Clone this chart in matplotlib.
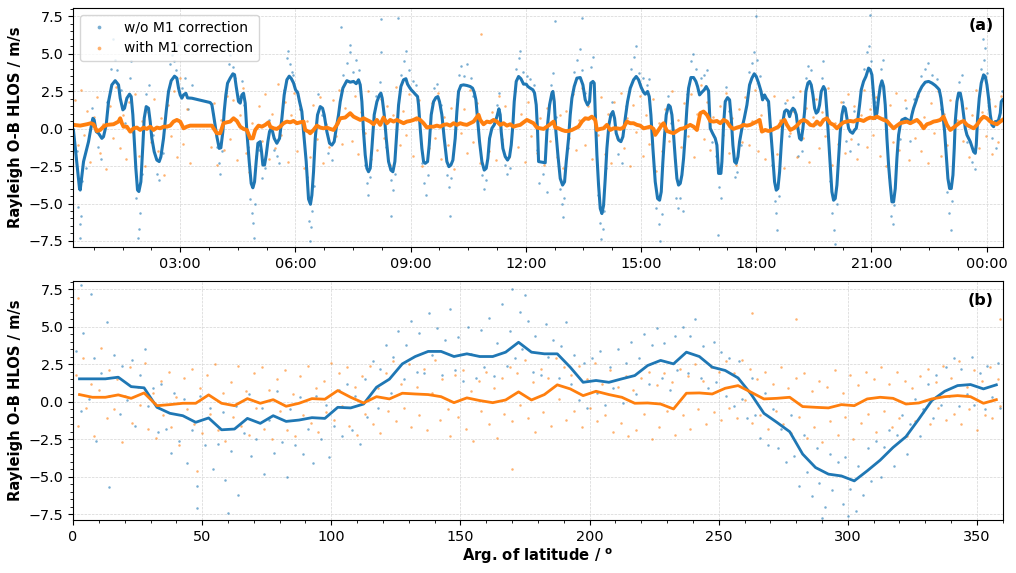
import datetime as dt
import matplotlib
matplotlib.use("Agg")
import matplotlib.pyplot as plt
import matplotlib.dates as mdates
from matplotlib.ticker import AutoMinorLocator, MultipleLocator

# ---------------- panel (a): time series (hours since 00:00) ----------------
# running mean, w/o M1 correction
blue_a = [
    (0.22, -0.1), (0.378, -4.0), (0.396, -4.1), (0.483, -2.2), (0.569, -1.3), (0.613, -0.87),
    (0.674, 0.02), (0.726, 0.69), (0.760, 0.58), (0.813, -0.2), (0.873, -0.31), (0.960, -0.65),
    (1.003, -0.54), (1.073, 0.25), (1.134, 1.8), (1.220, 2.92), (1.307, 3.2), (1.394, 2.92),
    (1.438, 2.03), (1.507, 1.25), (1.550, 1.36), (1.611, 2.03), (1.681, 2.3), (1.724, 2.14),
    (1.767, 0.92), (1.802, -0.65), (1.845, -2.65), (1.889, -4.1), (1.924, -4.2), (1.976, -3.55),
    (2.028, -1.1), (2.063, 0.69), (2.115, 1.47), (2.175, 1.36), (2.219, 0.47), (2.262, -0.65),
    (2.323, -1.54), (2.392, -2.1), (2.453, -2.2), (2.497, -1.88), (2.566, -0.65), (2.635, 1.14),
    (2.696, 2.48), (2.766, 3.2), (2.852, 3.5), (2.913, 3.37), (2.957, 2.7), (3.000, 2.25),
    (3.043, 2.03), (3.087, 2.25), (3.148, 2.36), (3.191, 2.05), (3.304, 2.03), (3.781, 1.74),
    (3.825, 1.6), (3.868, 0.92), (3.955, -0.54), (4.016, -1.32), (4.059, -1.28), (4.111, -0.2),
    (4.146, 1.14), (4.189, 2.25), (4.233, 3.03), (4.302, 3.37), (4.372, 3.66), (4.415, 3.6),
    (4.458, 2.81), (4.519, 1.81), (4.563, 1.70), (4.606, 2.25), (4.649, 2.36), (4.693, 1.7),
    (4.736, -0.2), (4.797, -2.2), (4.849, -3.66), (4.892, -3.95), (4.936, -3.55), (4.979, -2.2),
    (5.023, -0.98), (5.083, -0.87), (5.118, -1.54), (5.153, -2.43), (5.196, -2.43), (5.240, -1.76),
    (5.283, -0.87), (5.326, -0.2), (5.370, 0.02), (5.405, -0.2), (5.448, -0.65), (5.517, -0.98),
    (5.587, -0.65), (5.648, 0.69), (5.708, 2.25), (5.778, 3.26), (5.839, 3.5), (5.891, 3.35),
    (5.951, 3.05), (6.003, 2.6), (6.064, 2.36), (6.108, 1.8), (6.168, 1.14), (6.212, -0.2),
    (6.281, -2.2), (6.342, -4.7), (6.392, -5.05), (6.429, -4.44), (6.472, -2.88), (6.516, -0.65),
    (6.576, 0.92), (6.646, 1.47), (6.707, 1.36), (6.750, 0.92), (6.819, -0.2), (6.889, -0.98),
    (6.950, -1.1), (7.010, -0.87), (7.063, 0.02), (7.123, 0.92), (7.167, 1.8), (7.236, 2.7),
    (7.340, 3.2), (7.427, 3.1), (7.514, 3.15), (7.583, 3.0), (7.644, 3.26), (7.688, 2.92),
    (7.731, 1.8), (7.774, -0.2), (7.818, -1.76), (7.861, -2.65), (7.904, -2.88), (7.948, -2.65),
    (7.991, -1.32), (8.052, 0.92), (8.122, 1.8), (8.191, 2.25), (8.226, 2.37), (8.260, 2.03),
    (8.313, 0.92), (8.365, -0.65), (8.425, -2.2), (8.486, -2.77), (8.538, -2.88), (8.590, -2.2),
    (8.642, -0.2), (8.686, 1.58), (8.747, 2.81), (8.816, 3.26), (8.877, 3.33), (8.920, 2.97),
    (8.972, 2.75), (9.016, 2.59), (9.076, 2.43), (9.120, 2.3), (9.181, 2.14), (9.207, 1.58),
    (9.250, 0.02), (9.293, -1.32), (9.337, -2.2), (9.380, -2.32), (9.441, -2.2), (9.484, -1.1),
    (9.536, 0.92), (9.597, 1.8), (9.658, 2.07), (9.710, 2.14), (9.753, 1.8), (9.814, 0.92),
    (9.875, -0.65), (9.944, -2.2), (9.997, -2.54), (10.049, -2.43), (10.101, -2.1), (10.161, -0.65),
    (10.205, 1.14), (10.248, 2.48), (10.309, 2.88), (10.378, 2.92), (10.465, 2.88), (10.552, 2.81),
    (10.613, 2.7), (10.656, 2.43), (10.700, 1.92), (10.743, 0.69), (10.795, -0.87), (10.856, -2.2),
    (10.917, -2.77), (10.969, -2.65), (11.012, -1.98), (11.056, -0.65), (11.116, 0.02), (11.177, 0.25),
    (11.247, 0.80), (11.299, 1.32), (11.333, 0.92), (11.359, -0.2), (11.403, -1.32), (11.464, -1.87),
    (11.524, -2.1), (11.576, -1.87), (11.620, -1.1), (11.663, 0.25), (11.698, 1.8), (11.750, 3.15),
    (11.811, 3.48), (11.872, 3.33), (11.941, 2.97), (12.010, 2.97), (12.054, 2.81), (12.115, 2.7),
    (12.184, 2.59), (12.227, 2.37), (12.271, 1.58), (12.306, -0.2), (12.332, -2.2), (12.505, -2.28),
    (12.549, -0.2), (12.618, 1.58), (12.679, 2.37), (12.705, 2.48), (12.740, 1.81), (12.783, -0.2),
    (12.835, -1.76), (12.896, -3.33), (12.957, -3.77), (13.009, -3.55), (13.052, -2.21), (13.113, -0.65),
    (13.156, 0.92), (13.200, 2.03), (13.260, 2.81), (13.330, 3.37), (13.417, 3.41), (13.486, 2.92),
    (13.547, 1.92), (13.608, 1.58), (13.660, 1.81), (13.694, 3.04), (13.747, 3.15), (13.781, 3.04),
    (13.816, 0.47), (13.851, -1.76), (13.894, -3.77), (13.938, -5.33), (13.981, -5.67), (14.024, -5.13),
    (14.068, -3.33), (14.111, -1.32), (14.163, 0.25), (14.215, 0.92), (14.267, 1.14), (14.311, 0.69),
    (14.354, -0.31), (14.415, -0.76), (14.476, -0.87), (14.528, -0.54), (14.589, 0.69), (14.649, 1.8),
    (14.719, 2.7), (14.806, 3.26), (14.875, 3.48), (14.936, 3.26), (15.005, 2.75), (15.066, 2.43),
    (15.109, 2.3), (15.170, 2.48), (15.214, 2.14), (15.257, 0.92), (15.309, -1.32), (15.370, -3.55),
    (15.431, -4.67), (15.483, -4.78), (15.526, -4.22), (15.569, -2.21), (15.613, -0.42), (15.656, 0.92),
    (15.717, 1.58), (15.760, 1.47), (15.804, 0.92), (15.847, -0.42), (15.891, -1.98), (15.934, -3.33),
    (15.977, -3.77), (16.021, -3.66), (16.064, -3.1), (16.108, -1.98), (16.151, -0.42), (16.194, 1.36),
    (16.238, 2.7), (16.299, 3.41), (16.368, 3.41), (16.429, 3.15), (16.472, 2.81), (16.524, 2.25),
    (16.585, 2.43), (16.646, 2.59), (16.698, 2.81), (16.759, 2.52), (16.802, 0.02), (16.863, -0.31),
    (16.932, -0.65), (16.976, -1.1), (17.002, -2.21), (17.019, -2.99), (17.080, -2.99), (17.106, -2.21),
    (17.149, 0.25), (17.193, 1.81), (17.253, 2.07), (17.306, 1.92), (17.349, 0.69), (17.392, -1.1),
    (17.436, -2.21), (17.479, -2.32), (17.523, -1.88), (17.566, -0.87), (17.627, 0.02), (17.688, 0.69),
    (17.757, 1.58), (17.826, 2.92), (17.887, 3.37), (17.948, 3.66), (18.000, 3.48), (18.061, 3.04),
    (18.122, 2.52), (18.165, 1.92), (18.217, 2.25), (18.260, 2.03), (18.321, 1.81), (18.365, 0.25),
    (18.426, -1.76), (18.477, -3.55), (18.521, -4.11), (18.564, -4.0), (18.608, -2.88), (18.651, -1.1),
    (18.694, 0.47), (18.738, 1.14), (18.781, 1.25), (18.825, 1.18), (18.868, 0.8), (18.911, 1.18),
    (18.955, 1.36), (18.998, 1.25), (19.042, 0.92), (19.085, 0.02), (19.128, -0.65), (19.172, -0.76),
    (19.215, 0.02), (19.259, 1.14), (19.293, 2.48), (19.345, 3.04), (19.389, 3.15), (19.432, 2.92),
    (19.476, 2.25), (19.519, 1.36), (19.562, 1.03), (19.606, 1.14), (19.649, 1.58), (19.693, 2.48),
    (19.753, 2.81), (19.797, 2.59), (19.840, 1.14), (19.884, -0.65), (19.927, -2.43), (19.970, -4.22),
    (20.014, -4.78), (20.057, -4.67), (20.101, -3.77), (20.144, -1.98), (20.188, -0.2), (20.231, 0.92),
    (20.274, 1.47), (20.318, 1.36), (20.361, 0.69), (20.405, 0.02), (20.448, -0.2), (20.509, -0.31),
    (20.561, -0.09), (20.604, 0.02), (20.648, 0.69), (20.691, 1.58), (20.734, 2.59), (20.795, 3.15),
    (20.856, 3.48), (20.925, 4.04), (20.969, 3.93), (21.012, 3.59), (21.056, 2.25), (21.099, 0.69),
    (21.142, 1.03), (21.186, 2.03), (21.229, 2.81), (21.273, 3.19), (21.316, 2.81), (21.359, 1.58),
    (21.403, -0.65), (21.446, -2.43), (21.490, -3.77), (21.533, -4.89), (21.576, -4.89), (21.620, -4.0),
    (21.663, -1.98), (21.707, -0.42), (21.750, 0.25), (21.793, 0.58), (21.880, 0.69), (21.950, 0.58),
    (22.010, 0.36), (22.053, 0.92), (22.097, 1.36), (22.158, 1.81), (22.227, 2.37), (22.314, 2.81),
    (22.401, 3.1), (22.488, 3.15), (22.575, 3.04), (22.661, 2.88), (22.731, 2.7), (22.766, 2.59),
    (22.809, 2.03), (22.852, 1.14), (22.905, -0.2), (22.948, -1.76), (22.991, -3.33), (23.035, -4.0),
    (23.078, -4.0), (23.122, -3.1), (23.156, -1.32), (23.182, 0.47), (23.226, 1.81), (23.269, 2.37),
    (23.313, 2.37), (23.356, 1.81), (23.399, 0.92), (23.443, 0.02), (23.486, -0.42), (23.530, -0.65),
    (23.573, -0.87), (23.616, -1.21), (23.660, -1.54), (23.703, -1.65), (23.729, -1.1), (23.764, 0.69),
    (23.807, 2.03), (23.859, 3.04), (23.920, 3.59), (23.964, 3.48), (24.007, 2.92), (24.050, 2.03),
    (24.094, 0.92), (24.137, 0.25), (24.181, 0.13), (24.224, 0.47), (24.267, 0.47), (24.311, 0.58),
    (24.354, 1.03), (24.380, 1.8), (24.415, 1.92),
]

# running mean, with M1 correction
orange_a = [
    (0.222, 0.25), (0.396, 0.2), (0.569, 0.29), (0.674, 0.36), (0.743, 0.29), (0.830, -0.16),
    (0.917, -0.09), (1.003, 0.13), (1.090, 0.25), (1.264, 0.29), (1.394, 0.47), (1.438, 0.69),
    (1.481, 0.36), (1.524, 0.13), (1.611, 0.13), (1.698, -0.2), (1.785, 0.02), (1.872, 0.07),
    (1.958, -0.09), (2.045, 0.07), (2.132, -0.02), (2.219, 0.13), (2.306, -0.09), (2.392, 0.07),
    (2.479, 0.02), (2.566, 0.13), (2.653, 0.13), (2.740, 0.2), (2.826, 0.47), (2.913, 0.58),
    (3.000, 0.47), (3.087, 0.02), (3.174, 0.13), (3.260, 0.2), (3.825, 0.2), (3.868, 0.02),
    (3.955, -0.31), (4.042, -0.31), (4.128, 0.36), (4.215, 0.42), (4.302, 0.47), (4.389, 0.69),
    (4.476, 0.51), (4.563, 0.13), (4.649, -0.02), (4.736, -0.09), (4.823, -0.65), (4.892, -0.65),
    (4.953, -0.09), (5.040, 0.2), (5.127, 0.13), (5.214, 0.25), (5.300, 0.42), (5.344, 0.13),
    (5.431, 0.02), (5.517, -0.02), (5.604, 0.13), (5.691, 0.36), (5.778, 0.47), (5.865, 0.42),
    (5.951, 0.51), (6.038, 0.36), (6.125, 0.42), (6.212, 0.47), (6.255, -0.09), (6.342, -0.2),
    (6.385, -0.31), (6.472, -0.09), (6.559, 0.2), (6.646, 0.07), (6.733, 0.02), (6.819, 0.07),
    (6.906, -0.02), (6.993, -0.09), (7.080, 0.25), (7.167, 0.69), (7.297, 0.74), (7.427, 1.03),
    (7.514, 0.8), (7.601, 0.69), (7.688, 0.58), (7.774, 0.69), (7.861, 0.58), (7.948, 0.47),
    (8.035, 0.29), (8.122, 0.58), (8.208, 0.25), (8.295, 0.74), (8.382, 0.36), (8.469, 0.58),
    (8.556, 0.47), (8.642, 0.58), (8.729, 0.47), (8.816, 0.36), (8.903, 0.47), (8.990, 0.51),
    (9.076, 0.58), (9.163, 0.69), (9.250, 0.58), (9.337, 0.36), (9.424, 0.07), (9.510, 0.13),
    (9.597, 0.13), (9.684, 0.2), (9.771, 0.13), (9.858, 0.25), (9.944, 0.29), (10.031, 0.2),
    (10.118, 0.36), (10.205, 0.25), (10.292, 0.36), (10.378, 0.29), (10.465, 0.25), (10.552, 0.36),
    (10.639, 0.47), (10.769, 0.92), (10.813, 0.58), (10.899, 0.29), (10.986, 0.47), (11.073, 0.42),
    (11.160, 0.58), (11.247, 0.47), (11.333, 0.25), (11.420, 0.36), (11.507, 0.2), (11.594, 0.29),
    (11.681, 0.13), (11.767, 0.2), (11.854, 0.25), (11.941, 0.42), (12.028, 0.58), (12.115, 0.47),
    (12.201, 0.36), (12.288, 0.07), (12.375, 0.02), (12.462, -0.02), (12.549, 0.13), (12.635, 0.29),
    (12.722, 0.47), (12.766, 0.07), (12.852, 0.02), (12.939, -0.09), (13.026, -0.16), (13.113, -0.16),
    (13.200, -0.09), (13.286, 0.02), (13.373, 0.13), (13.460, 0.47), (13.547, 0.69), (13.634, 0.65),
    (13.720, 0.8), (13.807, 0.58), (13.851, -0.09), (13.938, -0.02), (14.024, 0.02), (14.111, 0.25),
    (14.198, -0.09), (14.285, 0.02), (14.372, 0.02), (14.458, -0.02), (14.545, 0.07), (14.632, 0.47),
    (14.719, 0.36), (14.806, 0.36), (14.892, 0.25), (14.979, 0.2), (15.066, 0.02), (15.153, 0.07),
    (15.240, 0.13), (15.326, -0.02), (15.370, -0.42), (15.457, -0.09), (15.543, 0.25), (15.587, 0.36),
    (15.674, -0.16), (15.760, -0.24), (15.847, -0.31), (15.934, -0.16), (16.021, -0.02), (16.108, 0.02),
    (16.194, 0.13), (16.281, 0.25), (16.368, 0.13), (16.455, -0.09), (16.542, 1.03), (16.628, 1.14),
    (16.715, 0.92), (16.802, 0.51), (16.889, 0.47), (16.976, 0.51), (17.063, 0.36), (17.149, 0.58),
    (17.236, 0.47), (17.323, 0.13), (17.410, -0.02), (17.497, 0.07), (17.583, 0.13), (17.670, 0.25),
    (17.757, 0.2), (17.844, 0.25), (17.931, 0.36), (18.017, 0.47), (18.087, 0.58), (18.148, -0.2),
    (18.234, -0.09), (18.321, -0.16), (18.408, -0.09), (18.495, 0.02), (18.582, 0.13), (18.668, 0.47),
    (18.738, 0.58), (18.799, 0.25), (18.886, -0.09), (18.973, 0.02), (19.059, 0.2), (19.146, 0.47),
    (19.233, 0.58), (19.320, 0.47), (19.406, 0.25), (19.493, 0.2), (19.580, 0.47), (19.667, 0.25),
    (19.753, 0.58), (19.840, 0.69), (19.927, 0.36), (20.014, 0.25), (20.101, 0.02), (20.188, 0.25),
    (20.274, 0.42), (20.361, 0.47), (20.448, 0.51), (20.535, 0.47), (20.622, 0.58), (20.708, 0.58),
    (20.795, 0.51), (20.882, 0.65), (20.969, 0.74), (21.056, 0.69), (21.142, 0.8), (21.229, 0.69),
    (21.316, 0.58), (21.403, 0.51), (21.490, 0.25), (21.576, 0.02), (21.663, 0.2), (21.750, 0.36),
    (21.837, 0.42), (21.924, 0.47), (22.010, 0.36), (22.097, 0.47), (22.184, 0.58), (22.271, 0.36),
    (22.358, 0.02), (22.444, 0.29), (22.531, 0.36), (22.618, 0.47), (22.705, 0.51), (22.792, 0.58),
    (22.878, 0.8), (22.965, 0.25), (23.052, -0.09), (23.139, 0.07), (23.226, 0.25), (23.313, 0.42),
    (23.399, 0.51), (23.486, 0.25), (23.573, 0.13), (23.660, 0.02), (23.747, 0.25), (23.833, 0.58),
    (23.920, 0.8), (24.007, 0.69), (24.094, 0.47), (24.181, 0.36), (24.267, 0.29), (24.354, 0.47),
    (24.415, 0.58),
]

# individual observations, w/o M1 correction
blue_a_obs = [
    (0.30, -1.5), (0.35, -5.2), (0.38, -6.4), (0.40, -7.3), (0.42, -5.8), (0.45, -3.5), (0.55, -2.6),
    (0.70, 1.4), (0.85, -1.2), (0.95, -2.0), (1.10, 1.8), (1.20, 4.0), (1.26, 6.0), (1.30, 4.6),
    (1.36, 3.9), (1.45, 2.6), (1.55, 0.4), (1.68, 3.4), (1.73, 4.5), (1.86, -4.6), (1.90, -7.3),
    (1.93, -6.7), (1.96, -5.6), (2.00, -3.0), (2.12, 2.3), (2.20, 2.9), (2.30, -0.4), (2.40, -3.0),
    (2.46, -3.4), (2.55, -1.6), (2.74, 4.3), (2.78, 4.9), (2.83, 4.5), (2.90, 3.9), (2.95, 5.6),
    (3.04, 2.7), (3.13, 3.4), (3.20, 1.3), (3.30, 2.9), (3.85, 1.0), (3.95, -1.2), (4.00, -2.3),
    (4.04, -3.0), (4.09, -1.5), (4.20, 2.4), (4.26, 4.3), (4.30, 4.9), (4.37, 4.1), (4.43, 3.4),
    (4.50, 2.2), (4.62, 3.2), (4.66, 1.6), (4.76, -1.2), (4.82, -4.7), (4.87, -5.6), (4.89, -6.3),
    (4.91, -7.3), (4.94, -5.0), (5.05, -1.4), (5.13, -3.3), (5.20, -2.6), (5.32, 0.6), (5.45, -1.4),
    (5.52, -1.8), (5.56, -2.3), (5.70, 2.6), (5.78, 4.7), (5.82, 5.2), (5.86, 4.3), (5.91, 3.8),
    (5.95, 3.6), (6.04, 2.5), (6.12, 1.3), (6.30, -3.2), (6.35, -6.2), (6.38, -7.5), (6.40, -6.6),
    (6.43, -5.5), (6.48, -3.8), (6.60, 2.3), (6.70, 0.9), (6.85, -1.6), (6.95, -2.1), (7.10, 0.4),
    (7.20, 6.8), (7.25, 3.6), (7.35, 4.4), (7.41, 5.6), (7.42, 5.1), (7.50, 3.8), (7.58, 4.6),
    (7.66, 3.9), (7.80, -2.4), (7.86, -3.6), (7.90, -4.4), (7.95, -3.2), (8.10, 2.2), (8.20, 3.1),
    (8.23, 7.3), (8.24, 5.1), (8.35, -1.2), (8.48, -3.4), (8.50, -5.8), (8.54, -4.1), (8.60, -3.0),
    (8.66, 7.4), (8.75, 3.6), (8.82, 4.5), (8.88, 5.2), (8.95, 3.9), (9.05, 3.2), (9.15, 2.9),
    (9.30, -2.3), (9.36, -3.6), (9.40, -4.4), (9.45, -3.1), (9.60, 2.7), (9.70, 3.0), (9.78, 1.6),
    (9.95, -3.1), (10.00, -3.9), (10.02, -5.8), (10.05, -3.3), (10.25, 3.6), (10.32, 4.2),
    (10.40, 3.5), (10.48, 4.3), (10.56, 3.4), (10.62, 2.2), (10.85, -3.1), (10.90, -4.0),
    (10.95, -3.4), (11.10, 0.6), (11.25, 1.6), (11.30, 2.4), (11.45, -2.4), (11.52, -3.0),
    (11.58, -2.6), (11.75, 4.0), (11.81, 4.7), (11.86, 5.2), (11.93, 3.8), (12.02, 3.5),
    (12.12, 3.3), (12.20, 2.9), (12.30, -1.4), (12.35, -3.6), (12.45, -3.0), (12.55, -4.2),
    (12.65, 2.9), (12.70, 3.7), (12.76, 7.2), (12.78, 0.8), (12.88, -4.0), (12.93, -5.0),
    (12.96, -5.9), (13.00, -4.6), (13.10, -1.3), (13.25, 3.8), (13.33, 4.6), (13.40, 5.3),
    (13.45, 3.9), (13.47, 7.4), (13.55, 2.4), (13.70, 4.1), (13.75, 4.8), (13.88, -4.4),
    (13.94, -6.3), (13.97, -7.4), (14.00, -6.7), (14.04, -5.5), (14.10, -2.6), (14.25, 1.8),
    (14.40, -1.7), (14.50, -2.3), (14.60, 1.5), (14.75, 4.0), (14.82, 4.8), (14.88, 5.5),
    (14.95, 3.7), (15.05, 3.4), (15.15, 2.9), (15.20, 3.3), (15.40, -5.3), (15.46, -6.4),
    (15.50, -7.5), (15.55, -5.7), (15.70, 2.2), (15.78, 0.4), (15.92, -4.6), (15.97, -5.3),
    (16.02, -4.6), (16.10, -5.5), (16.20, 2.3), (16.30, 4.5), (16.36, 5.0), (16.42, 4.0),
    (16.55, 3.4), (16.65, 3.6), (16.72, 3.9), (16.85, -0.9), (16.95, -1.8), (17.00, -7.1),
    (17.03, -3.9), (17.08, -4.6), (17.22, 2.8), (17.30, 1.2), (17.44, -3.2), (17.50, -2.9),
    (17.60, -1.1), (17.80, 3.8), (17.90, 4.4), (17.95, 5.1), (18.00, 7.5), (18.02, 4.6),
    (18.10, 3.5), (18.40, -2.4), (18.48, -4.8), (18.52, -5.6), (18.55, -6.8), (18.60, -4.5),
    (18.75, 1.7), (18.85, -0.5), (18.95, 2.1), (19.10, -1.8), (19.18, -1.5), (19.30, 3.4),
    (19.36, 4.2), (19.42, 3.9), (19.55, 0.3), (19.70, 3.4), (19.75, 4.5), (19.92, -3.5),
    (19.98, -5.6), (20.02, -6.8), (20.05, -7.7), (20.10, -5.0), (20.25, 1.8), (20.35, -0.8),
    (20.45, -1.5), (20.55, 1.2), (20.65, -1.0), (20.80, 4.0), (20.88, 5.1), (20.93, 5.5),
    (20.96, 7.6), (21.00, 4.5), (21.10, 1.8), (21.25, 4.0), (21.30, 4.6), (21.45, -3.2),
    (21.52, -5.8), (21.56, -6.4), (21.60, -5.1), (21.75, -0.7), (21.90, 1.4), (22.00, -0.8),
    (22.10, 2.0), (22.30, 3.5), (22.40, 4.0), (22.48, 4.4), (22.58, 3.6), (22.70, 3.3),
    (22.80, 1.3), (22.98, -4.2), (23.03, -5.6), (23.06, -6.8), (23.10, -4.8), (23.28, 3.1),
    (23.35, 3.6), (23.48, -0.9), (23.62, -2.2), (23.70, -2.7), (23.85, 4.0), (23.90, 6.0),
    (23.92, 4.6), (23.96, 5.4), (24.02, 3.7), (24.15, -0.6), (24.25, -1.3), (24.35, 1.1),
    (24.40, 2.5),
]

# individual observations, with M1 correction
orange_a_obs = [
    (0.25, 1.9), (0.33, -1.1), (0.42, 2.6), (0.50, -0.4), (0.58, 1.2), (0.66, -2.2), (0.75, 0.8),
    (0.83, 2.1), (0.92, -1.6), (1.00, 0.3), (1.08, -2.7), (1.17, 1.5), (1.25, -0.6), (1.33, 2.8),
    (1.42, -1.3), (1.50, 0.9), (1.58, -2.0), (1.67, 1.8), (1.75, -0.2), (1.83, 2.3), (1.92, -1.8),
    (2.00, 0.5), (2.08, -2.5), (2.17, 1.1), (2.25, -0.9), (2.33, 2.0), (2.42, -1.5), (2.50, 0.7),
    (2.58, -3.1), (2.67, 1.6), (2.75, -0.5), (2.83, 2.5), (2.92, -1.9), (3.00, 3.4), (3.08, -1.0),
    (3.17, 1.3), (3.25, -2.3), (3.80, -1.2), (3.88, 1.7), (3.97, -2.4), (4.05, 0.6), (4.13, -1.4),
    (4.22, 2.2), (4.30, -0.7), (4.38, 1.9), (4.47, -2.1), (4.55, 0.9), (4.63, 2.7), (4.72, -1.6),
    (4.80, -2.9), (4.88, 0.4), (4.97, -1.8), (5.05, 1.5), (5.13, -0.8), (5.22, 2.3), (5.30, -2.0),
    (5.38, 1.0), (5.47, -1.3), (5.55, 3.0), (5.63, -0.4), (5.72, 1.8), (5.80, -2.2), (5.88, 0.9),
    (5.97, 2.4), (6.05, -1.5), (6.13, 1.3), (6.22, -2.6), (6.30, 0.5), (6.38, -1.9), (6.47, 1.6),
    (6.55, -0.7), (6.63, 2.1), (6.72, -2.3), (6.80, 0.3), (6.88, -1.2), (6.97, 1.9), (7.05, -0.5),
    (7.13, 2.6), (7.22, -1.0), (7.30, 1.4), (7.38, 3.2), (7.47, -0.8), (7.55, 2.2), (7.63, -1.7),
    (7.72, 1.1), (7.80, -0.3), (7.88, 2.5), (7.97, -2.0), (8.05, 0.8), (8.13, -1.4), (8.22, 2.0),
    (8.30, -0.6), (8.38, 1.5), (8.47, -2.4), (8.55, 0.9), (8.63, 2.8), (8.72, -1.1), (8.80, 1.2),
    (8.88, -0.4), (8.97, 2.3), (9.05, -1.8), (9.13, 0.6), (9.22, 1.9), (9.30, -2.5), (9.38, 0.2),
    (9.47, -1.3), (9.55, 1.7), (9.63, -0.6), (9.72, 2.4), (9.80, -2.0), (9.88, 0.8), (9.97, -1.1),
    (10.05, 1.4), (10.13, -2.7), (10.22, 2.0), (10.30, -0.3), (10.38, 1.3), (10.47, -1.6),
    (10.55, 2.6), (10.63, -0.9), (10.72, 1.7), (10.80, -2.3), (10.84, 6.3), (10.97, 0.5),
    (11.05, -1.5), (11.13, 1.1), (11.22, -2.1), (11.30, 2.2), (11.38, -0.7), (11.47, 1.5),
    (11.55, -1.9), (11.63, 0.4), (11.72, 2.5), (11.80, -1.2), (11.88, 1.0), (11.97, -2.2),
    (12.05, 1.8), (12.13, -0.5), (12.22, 2.3), (12.30, -1.6), (12.38, 0.7), (12.47, -2.4),
    (12.55, 1.4), (12.63, -0.8), (12.72, 2.0), (12.80, -1.9), (12.88, 0.9), (12.97, -2.6),
    (13.05, 1.2), (13.13, -0.6), (13.22, 2.3), (13.30, -1.4), (13.38, 0.6), (13.47, 2.7),
    (13.55, -1.1), (13.63, 1.5), (13.72, -2.0), (13.80, 0.9), (13.88, -0.4), (13.97, 2.1),
    (14.05, -1.7), (14.13, 1.0), (14.22, -2.3), (14.30, 1.8), (14.38, -0.6), (14.47, 2.4),
    (14.55, -1.3), (14.63, 0.7), (14.72, -2.5), (14.80, 1.6), (14.88, -0.2), (14.97, 2.2),
    (15.05, -1.8), (15.13, 0.9), (15.22, -1.0), (15.30, 2.0), (15.38, -2.8), (15.47, 0.4),
    (15.55, -1.5), (15.63, 1.3), (15.72, -0.8), (15.80, 2.5), (15.88, -2.1), (15.97, 0.6),
    (16.05, -1.2), (16.13, 1.7), (16.22, -0.5), (16.30, 2.3), (16.38, -1.9), (16.47, 1.0),
    (16.55, 2.9), (16.63, -0.7), (16.72, 1.8), (16.80, -1.4), (16.88, 0.8), (16.97, -2.2),
    (17.05, 1.5), (17.13, -0.4), (17.22, 2.4), (17.30, -1.6), (17.38, 0.7), (17.47, -2.4),
    (17.55, 1.3), (17.63, -0.9), (17.72, 2.1), (17.80, -1.1), (17.88, 0.5), (17.97, 2.6),
    (18.05, -1.5), (18.13, 0.9), (18.22, -2.0), (18.30, 1.6), (18.38, -0.8), (18.47, 2.2),
    (18.55, -1.7), (18.63, 0.6), (18.72, -2.6), (18.80, 1.9), (18.88, -0.3), (18.97, 1.2),
    (19.05, -1.9), (19.13, 2.5), (19.22, -0.6), (19.30, 1.4), (19.38, -2.2), (19.47, 0.8),
    (19.55, 2.0), (19.63, -1.3), (19.72, 1.1), (19.80, -0.5), (19.88, 2.7), (19.97, -2.4),
    (20.05, 0.4), (20.13, -1.0), (20.22, 1.8), (20.30, -1.6), (20.38, 2.3), (20.47, -0.7),
    (20.55, 1.5), (20.63, -2.0), (20.72, 0.9), (20.80, 2.6), (20.88, -1.2), (20.97, 1.3),
    (21.05, -0.4), (21.13, 2.1), (21.22, -1.8), (21.30, 0.7), (21.38, -2.5), (21.47, 1.6),
    (21.55, -0.9), (21.63, 2.4), (21.72, -1.4), (21.80, 0.5), (21.88, 1.9), (21.97, -2.1),
    (22.05, 1.2), (22.13, -0.6), (22.22, 2.2), (22.30, -1.5), (22.38, 0.8), (22.47, -2.3),
    (22.55, 1.7), (22.63, -0.3), (22.72, 2.5), (22.80, -1.8), (22.88, 1.0), (22.97, -1.1),
    (23.05, 1.9), (23.13, -2.4), (23.22, 0.6), (23.30, 2.3), (23.38, -0.8), (23.47, 1.4),
    (23.55, -1.9), (23.63, 0.9), (23.72, 2.6), (23.80, -1.3), (23.88, 1.1), (23.97, -0.5),
    (24.05, 2.0), (24.13, -1.7), (24.22, 1.5), (24.30, -0.9), (24.38, 2.2),
]

# ---------------- panel (b): binned by argument of latitude ----------------
arg_lat_bins = [
    2.5, 7.5, 12.5, 17.5, 22.5, 27.5, 32.5, 37.5, 42.5, 47.5, 52.5, 57.5,
    62.5, 67.5, 72.5, 77.5, 82.5, 87.5, 92.5, 97.5, 102.5, 107.5, 112.5, 117.5,
    122.5, 127.5, 132.5, 137.5, 142.5, 147.5, 152.5, 157.5, 162.5, 167.5, 172.5, 177.5,
    182.5, 187.5, 192.5, 197.5, 202.5, 207.5, 212.5, 217.5, 222.5, 227.5, 232.5, 237.5,
    242.5, 247.5, 252.5, 257.5, 262.5, 267.5, 272.5, 277.5, 282.5, 287.5, 292.5, 297.5,
    302.5, 307.5, 312.5, 317.5, 322.5, 327.5, 332.5, 337.5, 342.5, 347.5, 352.5, 357.5,
]
blue_b = [
    1.52, 1.52, 1.52, 1.63, 1.0, 0.92, -0.38, -0.78, -0.94, -1.38, -1.09, -1.88,
    -1.83, -1.12, -1.45, -0.94, -1.32, -1.23, -1.07, -1.12, -0.38, -0.42, -0.16, 0.96,
    1.5, 2.52, 3.01, 3.35, 3.35, 3.01, 3.19, 3.01, 3.01, 3.3, 3.96, 3.3,
    3.19, 3.19, 2.3, 1.29, 1.41, 1.29, 1.52, 1.74, 2.41, 2.75, 2.52, 3.3,
    3.01, 2.3, 2.08, 1.58, 0.51, -0.78, -1.38, -2.01, -3.5, -4.4, -4.84, -4.96,
    -5.29, -4.62, -3.91, -3.06, -2.34, -1.16, 0.07, 0.69, 1.07, 1.14, 0.85, 1.12,
]
orange_b = [
    0.47, 0.29, 0.29, 0.45, 0.22, 0.58, -0.27, -0.2, -0.11, -0.11, 0.45, -0.11,
    -0.27, 0.2, -0.11, 0.13, -0.31, -0.11, 0.2, 0.16, 0.74, 0.29, -0.09, 0.33,
    0.18, 0.56, 0.51, 0.47, 0.33, -0.07, 0.25, 0.07, -0.07, 0.11, 0.65, 0.11,
    0.47, 1.12, 0.85, 0.4, 0.69, 0.47, 0.29, -0.11, -0.09, -0.16, -0.49, 0.56,
    0.58, 0.51, 0.89, 1.07, 0.63, 0.18, 0.22, 0.29, -0.33, -0.38, -0.42, -0.2,
    -0.27, 0.18, 0.29, 0.22, -0.16, -0.09, 0.18, 0.33, 0.4, 0.33, -0.11, 0.13,
]

blue_b_obs = [
    (1, 3.4), (3, -0.6), (3, 7.8), (4, 4.6), (6, 0.2), (7, 7.2), (8, 2.9), (9, -2.6), (11, 1.9),
    (13, 5.3), (14, 0.4), (14, -5.7), (16, 3.1), (18, -0.8), (19, 2.4), (21, 0.1), (23, 2.8),
    (24, -1.6), (26, 1.8), (28, 3.5), (29, -0.3), (31, 0.9), (33, -2.0), (34, 1.2), (36, -1.8),
    (38, -3.4), (39, 0.6), (41, -2.6), (43, 0.2), (44, -4.1), (46, -1.9), (48, -5.6), (48, -7.1),
    (49, 0.4), (51, -2.9), (53, -0.4), (54, -4.5), (56, -2.8), (58, -0.7), (59, -5.2), (60, -7.4),
    (61, -3.3), (63, -0.3), (64, -6.2), (66, -2.1), (68, 0.5), (69, -3.6), (71, -2.5), (73, -0.4),
    (74, -4.8), (76, -1.2), (78, -3.4), (79, 0.7), (81, -2.7), (83, -5.0), (84, -0.5), (86, -2.9),
    (88, 0.3), (89, -3.5), (91, -1.8), (93, -4.1), (94, 0.4), (96, -2.5), (98, -0.2), (99, -3.7),
    (101, -1.6), (103, 0.8), (104, -2.3), (106, 1.2), (108, -1.9), (109, 0.4), (111, -2.8),
    (113, 1.5), (114, -1.0), (116, 2.7), (118, -0.4), (119, 2.2), (121, 3.8), (123, 0.6),
    (124, 3.0), (126, 4.7), (128, 1.5), (129, 3.8), (131, 5.4), (133, 2.0), (134, 4.6), (136, 1.9),
    (138, 5.9), (139, 3.1), (141, 4.9), (143, 1.8), (144, 4.1), (146, 6.2), (148, 2.1), (149, 4.3),
    (151, 1.4), (153, 5.0), (154, 3.2), (156, 1.6), (158, 4.8), (159, 2.3), (161, 5.6), (163, 1.7),
    (164, 3.9), (166, 6.5), (168, 2.4), (169, 4.7), (170, 7.5), (171, 2.9), (173, 6.0), (174, 3.5),
    (175, 7.1), (176, 5.4), (178, 2.0), (179, 4.4), (181, 1.8), (183, 5.2), (184, 3.0), (186, 4.1),
    (188, 1.6), (189, 3.7), (191, 5.3), (193, 1.2), (194, 3.1), (196, 0.1), (198, 2.6), (199, -0.4),
    (201, 2.9), (203, 0.6), (204, 3.4), (206, -0.2), (208, 2.3), (209, 0.9), (211, 3.5), (213, -0.1),
    (214, 2.6), (216, 4.0), (218, 0.5), (219, 2.9), (221, 4.5), (223, 1.2), (224, 3.8), (226, 4.9),
    (228, 1.6), (229, 3.9), (231, 0.8), (233, 4.4), (234, 2.1), (236, 5.0), (238, 1.9), (239, 4.4),
    (241, 5.5), (243, 1.6), (244, 3.7), (246, 0.9), (248, 4.0), (249, 1.3), (251, 3.3), (253, 0.4),
    (254, 2.9), (256, -0.3), (258, 2.7), (259, 0.2), (261, -1.1), (263, 1.6), (264, -0.9),
    (266, -2.4), (268, 0.6), (269, -2.9), (271, -0.5), (273, -3.1), (274, -1.8), (276, -4.0),
    (278, -0.9), (279, -3.6), (281, -5.6), (283, -2.2), (284, -4.7), (286, -6.3), (288, -3.1),
    (289, -5.4), (290, -7.8), (291, -7.0), (293, -3.5), (294, -5.9), (296, -4.0), (298, -6.8),
    (299, -3.7), (300, -7.6), (301, -5.8), (303, -7.3), (304, -4.3), (306, -6.2), (308, -3.1),
    (309, -5.3), (311, -2.6), (313, -5.0), (314, -3.0), (316, -1.9), (318, -4.3), (319, -2.2),
    (321, -0.9), (323, -3.5), (324, -1.5), (326, 0.2), (328, -2.3), (329, -0.5), (331, 1.2),
    (333, -1.1), (334, 1.8), (336, -0.2), (338, 2.3), (339, 0.4), (341, 2.9), (343, -0.3),
    (344, 2.2), (346, 0.5), (348, 3.0), (349, -0.2), (351, 1.9), (353, -0.5), (354, 2.4),
    (356, 0.3), (358, 2.6), (359, -0.4),
]

orange_b_obs = [
    (1, 1.8), (2, -1.6), (2, 6.9), (4, 2.9), (5, -0.4), (7, 1.2), (8, -2.3), (10, 0.8), (11, 3.6),
    (13, -1.1), (14, 2.1), (16, -0.5), (17, 1.5), (19, -2.7), (20, 0.4), (22, 2.3), (23, -1.4),
    (25, 1.0), (26, -0.2), (28, 2.6), (29, -1.8), (31, 0.6), (32, -2.4), (34, 1.4), (35, -0.9),
    (37, 2.0), (38, -1.7), (40, 0.3), (41, -2.9), (43, 1.6), (44, -0.5), (46, 2.2), (47, -1.5),
    (48, -4.6), (49, 0.9), (50, -2.1), (52, 1.8), (53, -0.8), (55, 2.5), (56, -1.9), (58, 0.6),
    (59, -2.6), (61, 1.3), (62, -1.0), (64, 2.4), (65, -1.6), (67, 0.7), (68, -2.2), (70, 1.9),
    (71, -0.4), (73, 2.3), (74, -1.8), (76, 0.8), (77, -2.5), (79, 1.5), (80, -0.6), (82, 2.1),
    (83, -1.9), (85, 0.5), (86, -2.3), (88, 1.7), (89, -0.9), (91, 2.4), (92, -1.4), (94, 0.9),
    (95, -2.0), (97, 1.4), (98, -0.7), (100, 2.6), (101, -1.2), (103, 1.9), (104, -0.3), (106, 2.3),
    (107, -1.6), (109, 1.0), (110, -2.2), (112, 1.7), (113, -0.8), (115, 2.4), (116, -1.5),
    (118, 0.9), (119, -2.1), (121, 1.9), (122, -0.6), (124, 2.7), (125, -1.3), (127, 1.2),
    (128, -0.4), (130, 2.5), (131, -1.7), (133, 1.0), (134, -0.9), (136, 2.2), (137, -1.9),
    (139, 0.6), (140, 2.8), (142, -1.2), (143, 1.5), (145, -0.5), (146, -2.3), (148, 1.8),
    (149, -1.0), (151, 2.1), (152, -1.8), (154, 0.7), (155, -2.6), (157, 1.4), (158, -0.6),
    (160, 2.0), (161, -1.5), (163, 0.9), (164, -2.4), (166, 1.6), (167, -0.8), (169, 2.3),
    (170, -1.3), (170, -4.5), (172, 1.9), (173, -0.2), (175, 2.8), (176, -1.1), (178, 1.3),
    (179, -2.0), (181, 2.2), (182, -0.7), (184, 1.6), (185, -1.6), (187, 2.9), (188, 0.2),
    (190, 2.3), (191, -1.2), (193, 1.8), (194, -0.6), (196, 2.4), (197, -1.7), (199, 1.5),
    (200, -0.4), (202, 2.6), (203, -1.3), (205, 1.2), (206, -0.9), (208, 2.1), (209, -2.0),
    (211, 1.0), (212, -1.4), (214, 1.7), (215, -2.3), (217, 0.8), (218, -1.9), (220, 1.6),
    (221, -0.8), (223, 2.0), (224, -2.5), (226, 1.1), (227, -1.7), (229, 1.9), (230, -0.6),
    (232, 1.3), (233, -2.2), (235, 2.2), (236, -0.9), (238, 1.7), (239, -1.8), (241, 2.5),
    (242, -0.5), (244, 1.4), (245, -1.5), (247, 2.3), (248, -0.7), (250, 2.0), (251, -1.2),
    (253, 2.7), (254, -0.4), (256, 1.9), (257, -1.1), (259, 2.8), (260, 0.1), (262, 2.2),
    (263, -1.4), (263, 5.9), (265, 1.5), (266, -0.9), (268, 2.0), (269, -1.8), (271, 1.2),
    (272, -0.6), (274, 2.3), (275, -1.5), (277, 0.9), (278, -2.1), (280, 1.6), (280, 5.5),
    (281, -1.0), (283, 1.9), (284, -2.4), (286, 0.7), (287, -1.7), (289, 1.4), (290, -2.7),
    (292, 1.0), (293, -1.3), (295, 2.1), (296, -2.2), (298, 0.6), (299, -1.0), (301, 1.8),
    (302, -2.5), (304, 1.1), (305, -1.4), (307, 2.0), (308, -0.8), (310, 1.5), (311, -2.0),
    (313, 2.3), (314, -0.6), (316, 1.2), (317, -1.7), (319, 2.0), (320, -1.1), (322, 1.4),
    (323, -2.3), (325, 0.9), (326, -1.3), (328, 1.7), (329, -0.7), (331, 2.2), (332, -1.5),
    (334, 1.3), (335, -0.4), (337, 2.4), (338, -1.2), (340, 1.6), (341, -0.8), (343, 2.7),
    (344, -1.5), (346, 1.0), (347, -0.5), (349, 2.1), (350, -1.9), (352, 1.4), (353, -0.9),
    (355, 2.3), (356, -1.1), (358, 1.5), (359, -0.3), (359, 5.5),
]

C_BLUE = "#1f77b4"
C_ORANGE = "#ff7f0e"
day0 = dt.datetime(2019, 9, 1)


def to_time(hours):
    return [day0 + dt.timedelta(hours=h) for h in hours]


def split(pts):
    return [p[0] for p in pts], [p[1] for p in pts]


def style_axis(ax):
    ax.set_ylim(-7.9, 8.05)
    ax.yaxis.set_major_locator(MultipleLocator(2.5))
    ax.yaxis.set_minor_locator(AutoMinorLocator(5))
    ax.grid(True, which="major", ls="--", lw=0.5, color="#d5d5d5")
    ax.tick_params(labelsize=10.4)
    ax.set_ylabel("Rayleigh O-B HLOS / m/s", fontsize=10.6, fontweight="bold")


fig = plt.figure(figsize=(10.16, 5.73), dpi=100)
ax1 = fig.add_axes([0.0719, 0.569, 0.9151, 0.417])
ax2 = fig.add_axes([0.0719, 0.0925, 0.9151, 0.4171])

# panel (a)
t, v = split(blue_a_obs)
ax1.plot(to_time(t), v, "o", ms=1.8, mew=0, color=C_BLUE, alpha=0.6, label="w/o M1 correction")
t, v = split(orange_a_obs)
ax1.plot(to_time(t), v, "o", ms=1.8, mew=0, color=C_ORANGE, alpha=0.6, label="with M1 correction")
t, v = split(blue_a)
ax1.plot(to_time(t), v, color=C_BLUE, lw=2.2)
t, v = split(orange_a)
ax1.plot(to_time(t), v, color=C_ORANGE, lw=2.8)
ax1.set_xlim(day0 + dt.timedelta(hours=0.21), day0 + dt.timedelta(hours=24.42))
ax1.xaxis.set_major_locator(mdates.HourLocator(byhour=range(0, 24, 3)))
ax1.xaxis.set_major_formatter(mdates.DateFormatter("%H:%M"))
ax1.xaxis.set_minor_locator(AutoMinorLocator(4))
style_axis(ax1)
ax1.legend(loc="upper left", fontsize=10, markerscale=1.5)
ax1.text(0.99, 0.928, "(a)", transform=ax1.transAxes, ha="right", va="center",
         fontsize=11.5, fontweight="bold")

# panel (b)
x, v = split(blue_b_obs)
ax2.plot(x, v, "o", ms=1.8, mew=0, color=C_BLUE, alpha=0.6)
x, v = split(orange_b_obs)
ax2.plot(x, v, "o", ms=1.8, mew=0, color=C_ORANGE, alpha=0.6)
ax2.plot(arg_lat_bins, blue_b, color=C_BLUE, lw=2)
ax2.plot(arg_lat_bins, orange_b, color=C_ORANGE, lw=2)
ax2.set_xlim(0, 360)
ax2.xaxis.set_major_locator(MultipleLocator(50))
ax2.xaxis.set_minor_locator(AutoMinorLocator(5))
style_axis(ax2)
ax2.set_xlabel(r"Arg. of latitude / $\mathbf{^o}$", fontsize=10.6, fontweight="bold", labelpad=2)
ax2.text(0.99, 0.92, "(b)", transform=ax2.transAxes, ha="right", va="center",
         fontsize=11.5, fontweight="bold")

fig.savefig("out.png", dpi=100)
